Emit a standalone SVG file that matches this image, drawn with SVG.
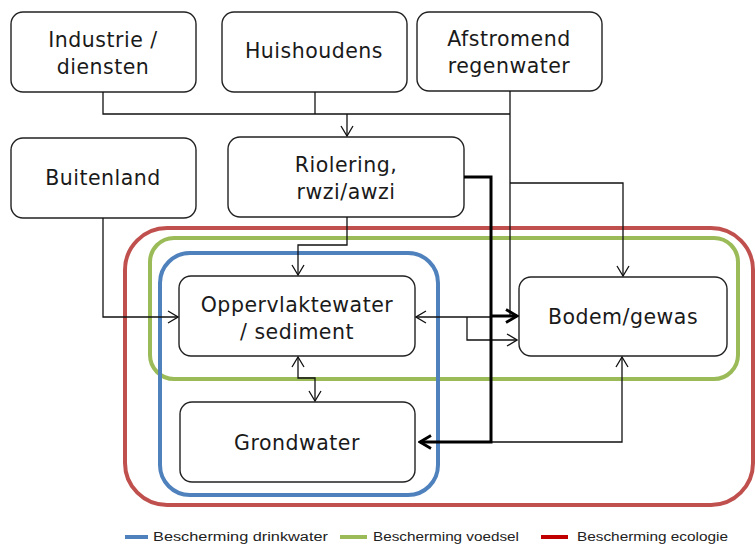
<svg xmlns="http://www.w3.org/2000/svg" width="755" height="549" viewBox="0 0 755 549">
<style>
.box{fill:#fff;stroke:#222;stroke-width:1.4}
.t{font-family:"DejaVu Sans",sans-serif;font-size:20.5px;letter-spacing:0.5px;fill:#1a1a1a;text-anchor:middle}
.c{fill:none;stroke:#111;stroke-width:1.3}
.ck{fill:none;stroke:#000;stroke-width:3}
.lg{font-family:"Liberation Sans",sans-serif;font-size:12.5px;fill:#222}
</style>
<defs>
<marker id="a" viewBox="0 0 12 14" refX="11" refY="7" markerWidth="12" markerHeight="14" markerUnits="userSpaceOnUse" orient="auto-start-reverse">
<path d="M1,1 L11,7 L1,13" fill="none" stroke="#111" stroke-width="1.3"/>
</marker>
<marker id="ak" viewBox="0 0 14 16" refX="12" refY="8" markerWidth="14" markerHeight="16" markerUnits="userSpaceOnUse" orient="auto">
<path d="M1,1.5 L12,8 L1,14.5" fill="none" stroke="#000" stroke-width="2.8"/>
</marker>
</defs>
<g id="regions">
<rect x="125" y="228" width="628" height="277" rx="42" fill="none" stroke="#C0504D" stroke-width="4"/>
<rect x="150" y="238" width="588" height="141" rx="24" fill="none" stroke="#9BBB59" stroke-width="4"/>
<rect x="160" y="253" width="278" height="242" rx="30" fill="none" stroke="#4F81BD" stroke-width="4"/>
</g>
<g id="n-industrie"><rect class="box" x="11" y="12" width="185" height="80" rx="12"/><text class="t" x="103" y="47">Industrie /</text><text class="t" x="103" y="74">diensten</text></g>
<g id="n-huishoudens"><rect class="box" x="222" y="12" width="185" height="80" rx="12"/><text class="t" x="314" y="58">Huishoudens</text></g>
<g id="n-afstromend"><rect class="box" x="417" y="12" width="185" height="79" rx="12"/><text class="t" x="509" y="46">Afstromend</text><text class="t" x="509" y="73">regenwater</text></g>
<g id="n-buitenland"><rect class="box" x="11" y="138" width="185" height="80" rx="12"/><text class="t" x="103" y="185">Buitenland</text></g>
<g id="n-riolering"><rect class="box" x="228" y="137" width="236" height="80" rx="12"/><text class="t" x="346" y="172">Riolering,</text><text class="t" x="346" y="199">rwzi/awzi</text></g>
<g id="n-opp"><rect class="box" x="179" y="276" width="236" height="80" rx="12"/><text class="t" x="297" y="312">Oppervlaktewater</text><text class="t" x="297" y="339">/ sediment</text></g>
<g id="n-grondwater"><rect class="box" x="180" y="402" width="235" height="80" rx="12"/><text class="t" x="297" y="450">Grondwater</text></g>
<g id="n-bodem"><rect class="box" x="519" y="277" width="208" height="79" rx="12"/><text class="t" x="623" y="324">Bodem/gewas</text></g>
<g id="connectors">
<path class="c" d="M103,92 V114 H510"/>
<path class="c" d="M315,92 V114"/>
<path class="c" d="M347,114 V136" marker-end="url(#a)"/>
<path class="c" d="M510,91 V316 H517" marker-end="url(#a)"/>
<path class="c" d="M510,183 H623 V276" marker-end="url(#a)"/>
<path class="c" d="M103,218 V317 H178" marker-end="url(#a)"/>
<path class="c" d="M347,217 V245 H298 V275" marker-end="url(#a)"/>
<path class="c" d="M298,357 V378 H315 V401" marker-start="url(#a)" marker-end="url(#a)"/>
<path class="c" d="M416,317 H491" marker-start="url(#a)"/>
<path class="c" d="M467,317 V340 H517" marker-end="url(#a)"/>
<path class="c" d="M491,442 H622 V357" marker-end="url(#a)"/>
<path class="ck" d="M464,177 H491 V442 H420" marker-end="url(#ak)"/>
<path class="ck" d="M491,316 H517" marker-end="url(#ak)"/>
</g>
<g id="legend">
<line x1="125" y1="537" x2="148" y2="537" stroke="#4F81BD" stroke-width="4"/>
<text class="lg" x="153" y="541" textLength="175" lengthAdjust="spacingAndGlyphs">Bescherming drinkwater</text>
<line x1="340" y1="537" x2="367" y2="537" stroke="#9BBB59" stroke-width="4"/>
<text class="lg" x="373" y="541" textLength="146" lengthAdjust="spacingAndGlyphs">Bescherming voedsel</text>
<line x1="541" y1="537" x2="568" y2="537" stroke="#C00000" stroke-width="4"/>
<text class="lg" x="577" y="541" textLength="151" lengthAdjust="spacingAndGlyphs">Bescherming ecologie</text>
</g>
</svg>
